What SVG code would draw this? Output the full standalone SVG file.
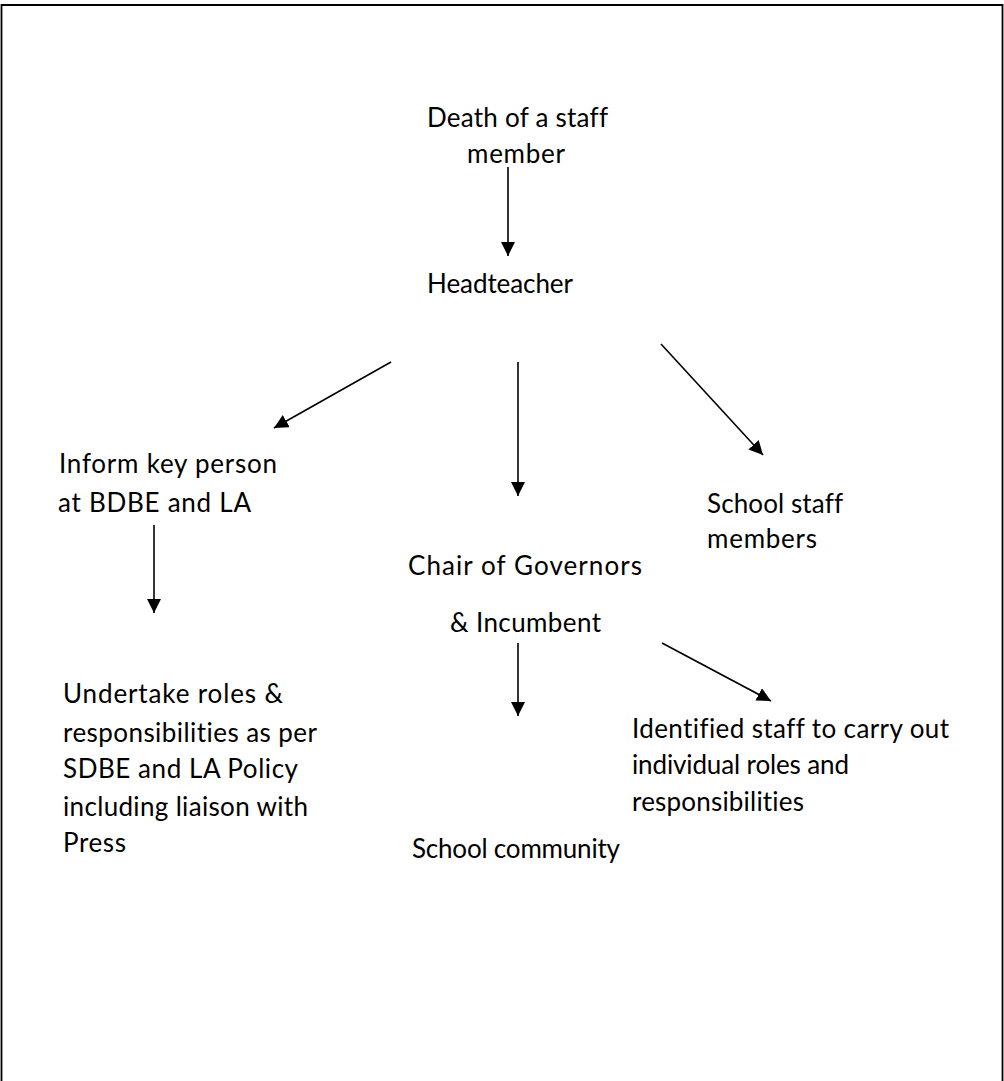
<svg xmlns="http://www.w3.org/2000/svg" width="1004" height="1081" viewBox="0 0 1004 1081">
  <style>
    .t { font-family: Lato, "Open Sans", "Liberation Sans", sans-serif; font-size: 26px; fill: #000;
         font-variant-ligatures: none; font-feature-settings: "liga" 0, "clig" 0, "dlig" 0; }
    .c { stroke: #000; stroke-width: 1.6; fill: none; marker-end: url(#head); }
    .frame { stroke: #000; stroke-width: 1.8; fill: none; }
  </style>
  <defs>
    <marker id="head" markerUnits="userSpaceOnUse" markerWidth="15" markerHeight="14" refX="14" refY="7" orient="auto">
      <path d="M0,0 L14,7 L0,14 z" fill="#000"/>
    </marker>
  </defs>

  <rect width="1004" height="1081" fill="#fff"/>
  <!-- page frame, open at the bottom -->
  <path class="frame" d="M1.5,1081 V5 H1002.5 V1081"/>

  <g id="connectors">
    <line class="c" x1="508" y1="167" x2="508" y2="256"/>
    <line class="c" x1="391" y1="362" x2="274" y2="428"/>
    <line class="c" x1="518" y1="362" x2="518" y2="496"/>
    <line class="c" x1="661" y1="344" x2="763" y2="455"/>
    <line class="c" x1="154" y1="525" x2="154" y2="613"/>
    <line class="c" x1="518" y1="643" x2="518" y2="716"/>
    <line class="c" x1="662" y1="643" x2="771" y2="701"/>
  </g>

  <g id="death">
    <text class="t" x="427" y="127" textLength="181" lengthAdjust="spacing">Death of a staff</text>
    <text class="t" x="467" y="163" textLength="98" lengthAdjust="spacing">member</text>
  </g>
  <g id="headteacher">
    <text class="t" x="427" y="293" textLength="146" lengthAdjust="spacing">Headteacher</text>
  </g>
  <g id="inform">
    <text class="t" x="59" y="473" textLength="218" lengthAdjust="spacing">Inform key person</text>
    <text class="t" x="58" y="512" textLength="193" lengthAdjust="spacing">at BDBE and LA</text>
  </g>
  <g id="staff">
    <text class="t" x="707" y="513" textLength="136" lengthAdjust="spacing">School staff</text>
    <text class="t" x="707" y="548" textLength="110" lengthAdjust="spacing">members</text>
  </g>
  <g id="chair">
    <text class="t" x="408" y="575" textLength="234" lengthAdjust="spacing">Chair of Governors</text>
    <text class="t" x="450" y="632" textLength="151" lengthAdjust="spacing">&amp; Incumbent</text>
  </g>
  <g id="undertake">
    <text class="t" x="63" y="703" textLength="220" lengthAdjust="spacing">Undertake roles &amp;</text>
    <text class="t" x="63" y="742" textLength="254" lengthAdjust="spacing">responsibilities as per</text>
    <text class="t" x="63" y="778" textLength="235" lengthAdjust="spacing">SDBE and LA Policy</text>
    <text class="t" x="63" y="816" textLength="245" lengthAdjust="spacing">including liaison with</text>
    <text class="t" x="63" y="852" textLength="63" lengthAdjust="spacing">Press</text>
  </g>
  <g id="community">
    <text class="t" x="412" y="858" textLength="208" lengthAdjust="spacing">School community</text>
  </g>
  <g id="identified">
    <text class="t" x="632" y="738" textLength="317" lengthAdjust="spacing">Identified staff to carry out</text>
    <text class="t" x="632" y="774" textLength="217" lengthAdjust="spacing">individual roles and</text>
    <text class="t" x="632" y="811" textLength="172" lengthAdjust="spacing">responsibilities</text>
  </g>
</svg>
